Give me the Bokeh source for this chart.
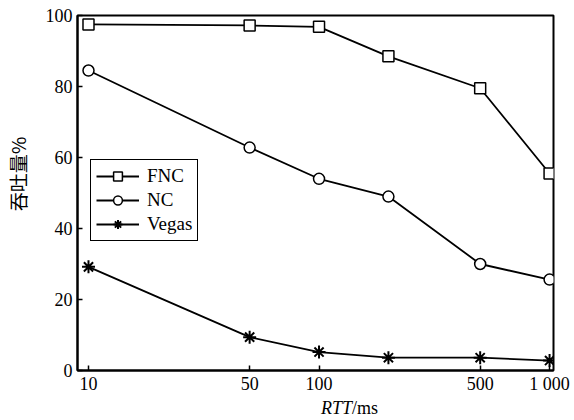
from bokeh.plotting import figure
from bokeh.layouts import column
from bokeh.models import Range1d, FixedTicker, Legend, LegendItem
from bokeh.core.properties import value
from bokeh.embed import file_html
from bokeh.resources import INLINE

# Throughput (%) versus round-trip time (ms)
rtt = [10, 50, 100, 200, 500, 1000]
fnc = [97.5, 97.2, 96.8, 88.5, 79.5, 55.5]
nc = [84.5, 62.8, 54.0, 49.0, 30.0, 25.6]
vegas = [29.2, 9.4, 5.2, 3.6, 3.6, 2.8]

x_ticks = [10, 50, 100, 500, 1000]
x_tick_labels = ["10", "50", "100", "500", "1 000"]
y_ticks = [0, 20, 40, 60, 80, 100]

SERIF = "Liberation Serif"
W = 574

p = figure(
    width=W, height=396,
    x_axis_type="log",
    x_range=Range1d(8.96, 1040),
    y_range=Range1d(0, 100),
    output_backend="svg", toolbar_location=None,
    min_border_left=75, min_border_right=21,
    min_border_top=15, min_border_bottom=24,
)

p.xgrid.visible = False
p.ygrid.visible = False
p.outline_line_color = "black"
p.outline_line_width = 2
p.outline_line_alpha = 1

for ax in (p.xaxis[0], p.yaxis[0]):
    ax.axis_line_width = 2
    ax.axis_line_color = "black"
    ax.major_tick_in = 5
    ax.major_tick_out = 0
    ax.major_tick_line_width = 1.5
    ax.minor_tick_line_color = None
    ax.major_label_text_font = SERIF
    ax.major_label_text_font_size = "18px"
    ax.major_label_text_color = "black"

p.xaxis.ticker = FixedTicker(ticks=x_ticks)
p.xaxis.major_label_overrides = {t: s for t, s in zip(x_ticks, x_tick_labels)}
p.xaxis.major_label_standoff = 3
p.yaxis.ticker = FixedTicker(ticks=y_ticks)
p.yaxis.major_label_standoff = 5

# rotated title, padded at its start so the visible glyphs sit a little higher
p.yaxis.axis_label = "\u3000\u3000吞吐量%"
p.yaxis.axis_label_text_font = "Noto Sans CJK SC"
p.yaxis.axis_label_text_font_size = "19px"
p.yaxis.axis_label_text_font_style = "normal"
p.yaxis.axis_label_text_color = "black"
p.yaxis.axis_label_standoff = 12

series = [
    ("FNC", fnc, "square", 11, 1.5),
    ("NC", nc, "circle", 11, 1.5),
    ("Vegas", vegas, "asterisk", 13, 2),
]

items = []
for name, vals, marker, size, mlw in series:
    ln = p.line(rtt, vals, line_color="black", line_width=1.8)
    sc = p.scatter(rtt, vals, marker=marker, size=size,
                   line_color="black", line_width=mlw, fill_color="white")
    items.append(LegendItem(label=name, renderers=[ln, sc]))

legend = Legend(
    items=items,
    location=(13, 129),
    label_text_font=SERIF,
    label_text_font_size="19px",
    label_text_color="black",
    glyph_width=43, glyph_height=22,
    label_height=22, label_standoff=8,
    spacing=2, padding=5, margin=0,
    border_line_color="black", border_line_width=1.5, border_line_alpha=1,
    background_fill_color="white", background_fill_alpha=1,
)
p.add_layout(legend, "center")

# strip beneath the chart carrying the x-axis title: italic "RTT" + upright "/ms"
strip_h = 24
t = figure(
    width=W, height=strip_h,
    x_range=Range1d(0, W), y_range=Range1d(0, strip_h),
    output_backend="svg", toolbar_location=None,
    x_axis_location=None, y_axis_location=None, min_border=0,
)
t.xgrid.visible = False
t.ygrid.visible = False
t.outline_line_color = None
title_x = 331
title_y = 13
t.text(x=[title_x], y=[title_y], text=["RTT"], text_align="right",
       text_baseline="middle", text_font=value(SERIF), text_font_size="18px",
       text_font_style="italic", text_color="black")
t.text(x=[title_x], y=[title_y], text=["/ms"], text_align="left",
       text_baseline="middle", text_font=value(SERIF), text_font_size="18px",
       text_color="black")

layout = column(p, t, spacing=0)
open("out.html", "w").write(file_html(layout, INLINE))
